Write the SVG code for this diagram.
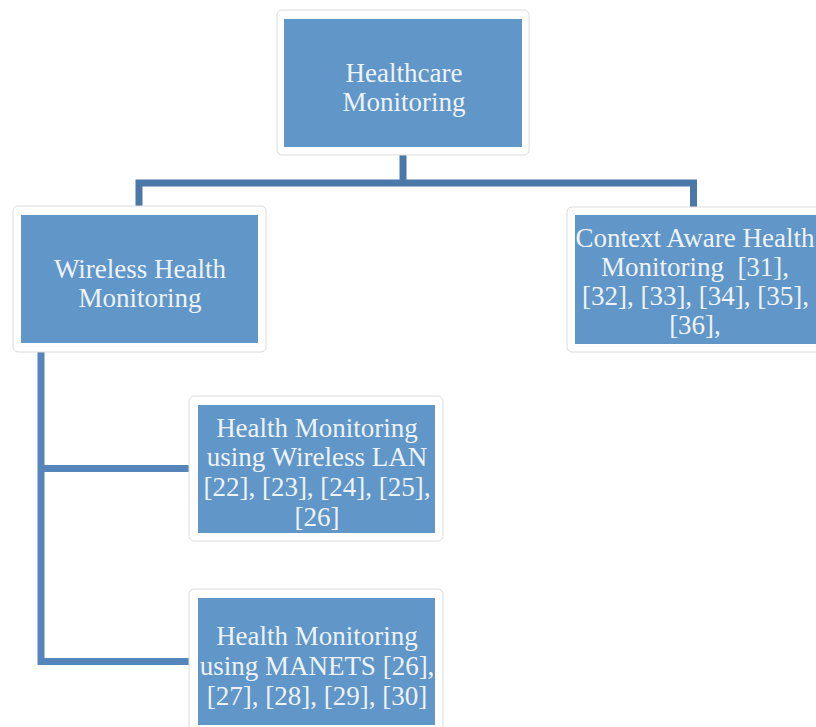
<svg xmlns="http://www.w3.org/2000/svg" width="816" height="727" viewBox="0 0 816 727">
<style>
.card{fill:#ffffff;stroke:#dcdcdc;stroke-width:1}
.box{fill:#6096c8}
.lbl{font-family:"Liberation Serif","Times New Roman",serif;font-size:27px;fill:#eef3f9;text-anchor:middle}
.conn{fill:none;stroke:#4a78a8;stroke-width:7;stroke-linejoin:miter}
.conn2{fill:none;stroke:#5585bb;stroke-width:7;stroke-linejoin:miter}
</style>
<defs>
<clipPath id="cCtx"><rect x="575" y="215" width="241" height="129"/></clipPath>
<clipPath id="cLan"><rect x="198" y="405" width="237" height="128"/></clipPath>
<clipPath id="cMan"><rect x="198" y="598" width="237" height="129"/></clipPath>
</defs>
<rect width="816" height="727" fill="#ffffff"/>
<g id="connectors">
<path class="conn" d="M403 155 V183"/>
<path class="conn" d="M139 206 V183 H693.5 V207"/>
<path class="conn2" d="M41 352 V661.5 H189"/>
<path class="conn2" d="M41 468.5 H189"/>
</g>
<g id="healthcare">
<rect class="card" x="277" y="10" width="252" height="145" rx="5"/>
<rect class="box" x="284" y="19" width="238" height="128"/>
<text class="lbl" x="404" y="82">Healthcare</text>
<text class="lbl" x="404" y="110.5">Monitoring</text>
</g>
<g id="wireless">
<rect class="card" x="13" y="206" width="253" height="146" rx="5"/>
<rect class="box" x="21" y="215" width="237" height="128"/>
<text class="lbl" x="140" y="278">Wireless Health</text>
<text class="lbl" x="140" y="307">Monitoring</text>
</g>
<g id="context">
<rect class="card" x="567" y="207" width="260" height="145" rx="5"/>
<rect class="box" x="575" y="215" width="241" height="129"/>
<g clip-path="url(#cCtx)">
<text class="lbl" x="695" y="247">Context Aware Health</text>
<text class="lbl" x="695" y="276" xml:space="preserve">Monitoring  [31],</text>
<text class="lbl" x="695.5" y="305">[32], [33], [34], [35],</text>
<text class="lbl" x="695" y="334">[36],</text>
</g>
</g>
<g id="lan">
<rect class="card" x="189" y="396" width="254" height="145" rx="5"/>
<rect class="box" x="198" y="405" width="237" height="128"/>
<g clip-path="url(#cLan)">
<text class="lbl" x="317" y="437">Health Monitoring</text>
<text class="lbl" x="317" y="466">using Wireless LAN</text>
<text class="lbl" x="317" y="496">[22], [23], [24], [25],</text>
<text class="lbl" x="317" y="526">[26]</text>
</g>
</g>
<g id="manets">
<rect class="card" x="189" y="589" width="254" height="150" rx="5"/>
<rect class="box" x="198" y="598" width="237" height="127"/>
<g clip-path="url(#cMan)">
<text class="lbl" x="317" y="645">Health Monitoring</text>
<text class="lbl" x="317" y="675">using MANETS [26],</text>
<text class="lbl" x="317" y="705">[27], [28], [29], [30]</text>
</g>
</g>
</svg>
